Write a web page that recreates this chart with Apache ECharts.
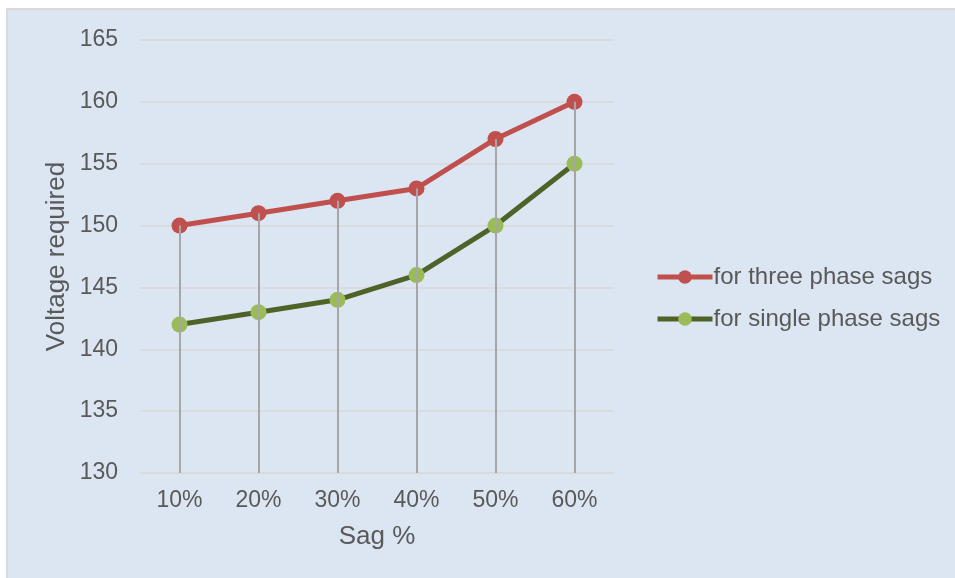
<!DOCTYPE html>
<html>
<head>
<meta charset="utf-8">
<script src="https://cdn.jsdelivr.net/npm/echarts@6/dist/echarts.min.js"></script>
<style>
  html, body { margin: 0; padding: 0; background: #ffffff; }
  #chart { width: 955px; height: 578px; }
</style>
</head>
<body>
<div id="chart"></div>
<script>
// Sag depth categories
const categories = ['10%', '20%', '30%', '40%', '50%', '60%'];
// Required voltage per sag type
const threePhase = [150, 151, 152, 153, 157, 160];
const singlePhase = [142, 143, 144, 146, 150, 155];
// Value axis range
const yMin = 130, yMax = 165, yStep = 5;

const textColor = '#595959';
const font = '"Liberation Sans", Arial, sans-serif';

// Vertical drop lines from the upper point of each category to the axis floor
const dropLines = categories.map((c, i) => [
  { coord: [i, Math.max(threePhase[i], singlePhase[i])] },
  { coord: [i, yMin] }
]);

const chart = echarts.init(document.getElementById('chart'));
chart.setOption({
  backgroundColor: '#ffffff',
  animation: false,
  graphic: [{
    type: 'rect',
    z: -10,
    silent: true,
    shape: { x: 7, y: 9, width: 960, height: 580 },
    style: { fill: '#dce6f2', stroke: '#d9d9d9', lineWidth: 2 }
  }],
  grid: { left: 140, right: 341, top: 40, bottom: 105 },
  legend: {
    orient: 'vertical',
    left: 655,
    top: 265,
    padding: 0,
    itemWidth: 55,
    itemHeight: 17,
    itemGap: 18,
    lineStyle: { width: 5 },
    data: ['for three phase sags', 'for single phase sags'],
    textStyle: { color: textColor, fontSize: 24, fontFamily: font, padding: [0, 0, 0, -4] }
  },
  xAxis: {
    type: 'category',
    data: categories,
    boundaryGap: true,
    name: 'Sag %',
    nameLocation: 'middle',
    nameGap: 51,
    nameTextStyle: { color: textColor, fontSize: 26, fontFamily: font },
    axisLine: { show: true, lineStyle: { color: '#d9d9d9', width: 1.5 } },
    axisTick: { show: false },
    axisLabel: { color: textColor, fontSize: 23, fontFamily: font, margin: 16 },
    splitLine: { show: false }
  },
  yAxis: {
    type: 'value',
    min: yMin,
    max: yMax,
    interval: yStep,
    name: 'Voltage required',
    nameLocation: 'middle',
    nameGap: 70,
    nameRotate: 90,
    nameTextStyle: { color: textColor, fontSize: 26, fontFamily: font },
    axisLine: { show: false },
    axisTick: { show: false },
    axisLabel: { color: textColor, fontSize: 23, fontFamily: font, margin: 22 },
    splitLine: { show: true, lineStyle: { color: '#d9d9d9', width: 1.5 } }
  },
  series: [
    {
      name: 'drops',
      type: 'line',
      data: [],
      z: 1,
      silent: true,
      markLine: {
        silent: true,
        symbol: ['none', 'none'],
        label: { show: false },
        lineStyle: { color: '#a6a6a6', width: 2, type: 'solid' },
        data: dropLines
      }
    },
    {
      name: 'for three phase sags',
      type: 'line',
      data: threePhase,
      z: 3,
      symbol: 'circle',
      symbolSize: 16,
      lineStyle: { color: '#c0504d', width: 5 },
      itemStyle: { color: '#c0504d' }
    },
    {
      name: 'for single phase sags',
      type: 'line',
      data: singlePhase,
      z: 3,
      symbol: 'circle',
      symbolSize: 16,
      lineStyle: { color: '#4f6228', width: 5 },
      itemStyle: { color: '#9bbb59' }
    }
  ]
});
</script>
</body>
</html>
